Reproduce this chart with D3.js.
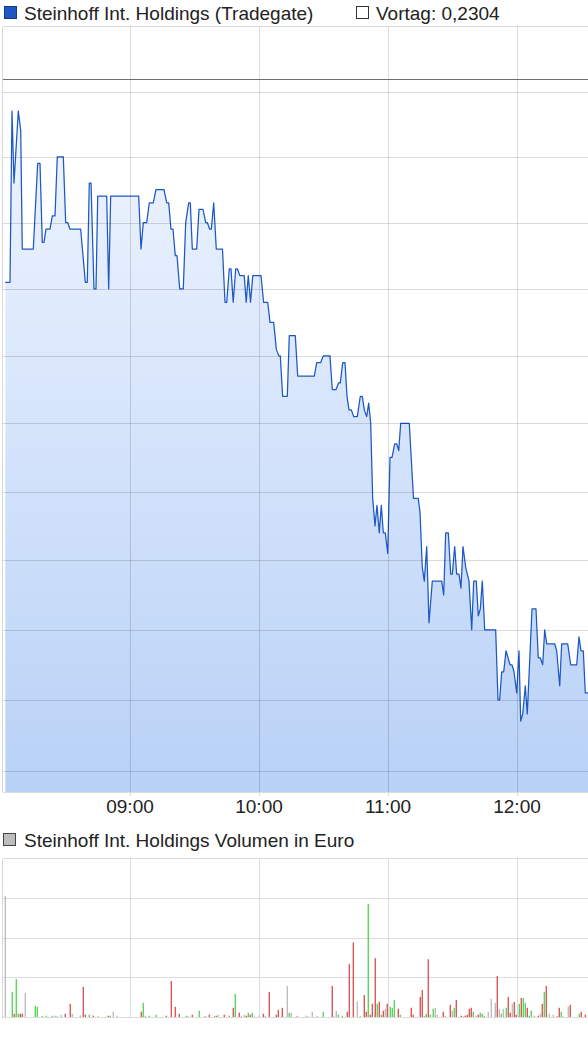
<!DOCTYPE html>
<html><head><meta charset="utf-8">
<script src="https://cdn.jsdelivr.net/npm/d3@7"></script>
<style>
html,body{margin:0;padding:0;background:#fff;}
svg{display:block;font-family:"Liberation Sans",Arial,sans-serif;}
</style></head>
<body>
<svg id="c" width="588" height="1037"></svg>
<script>
// ---------- data ----------
const title = "Steinhoff Int. Holdings (Tradegate)";
const prevLabel = "Vortag: 0,2304";
const prevClose = 0.2304;
const volTitle = "Steinhoff Int. Holdings Volumen in Euro";
const timeTicks = ["09:00","10:00","11:00","12:00"];
const priceTicks = [0.230,0.228,0.226,0.224,0.222,0.220,0.218,0.216,0.214,0.212,0.210];
const volTicks = [4000,8000,12000];

const priceTimes = ["08:02:00","08:04:11","08:05:07","08:06:03","08:08:03","08:09:10","08:09:54","08:15:01","08:17:04","08:18:08",
"08:19:13","08:20:00","08:20:56","08:22:47","08:23:52","08:25:07","08:26:11","08:28:59","08:30:05","08:31:01",
"08:32:05","08:37:04","08:39:13","08:40:08","08:41:04","08:41:52","08:43:15","08:44:11","08:44:59","08:49:10",
"08:50:05","08:51:01","09:04:03","09:05:07","09:06:11","09:07:46","09:08:59","09:10:50","09:12:05","09:15:49",
"09:17:04","09:18:00","09:19:04","09:20:00","09:21:04","09:21:52","09:23:07","09:24:47","09:25:54","09:27:18",
"09:28:03","09:28:59","09:31:01","09:32:05","09:33:57","09:35:13","09:35:57","09:37:04","09:37:49","09:38:56",
"09:40:08","09:43:01","09:44:11","09:44:59","09:46:11","09:46:59","09:48:00","09:49:10","09:50:00","09:51:04",
"09:53:07","09:54:03","09:55:01","09:56:03","09:57:07","10:00:56","10:02:08","10:04:03","10:05:07","10:06:50",
"10:08:03","10:09:10","10:09:54","10:11:01","10:13:10","10:14:05","10:16:53","10:18:00","10:25:43","10:26:50",
"10:28:42","10:29:54","10:33:01","10:34:05","10:35:49","10:37:04","10:37:49","10:38:56","10:40:00","10:40:56",
"10:41:52","10:42:56","10:44:03","10:45:43","10:47:07","10:48:03","10:48:59","10:50:05","10:51:01","10:51:57",
"10:52:53","10:53:57","10:54:53","10:55:57","10:56:53","10:57:49","10:58:45","10:59:52","11:00:56","11:01:52",
"11:03:07","11:04:03","11:04:59","11:05:54","11:09:54","11:11:52","11:14:05","11:14:53","11:15:57","11:16:53",
"11:18:00","11:19:04","11:20:36","11:24:59","11:25:54","11:26:50","11:28:03","11:29:10","11:29:54","11:31:01",
"11:31:57","11:33:01","11:33:57","11:34:53","11:36:08","11:37:40","11:38:56","11:39:52","11:41:04","11:42:00",
"11:42:56","11:43:52","11:44:59","11:50:05","11:51:10","11:51:57","11:52:53","11:53:49","11:54:53","11:56:45",
"11:57:40","11:58:36","11:59:52","12:00:56","12:01:43","12:02:39","12:03:52","12:04:47","12:06:59","12:08:50",
"12:09:54","12:10:50","12:11:57","12:12:53","12:13:49","12:17:32","12:18:28","12:19:52","12:20:47","12:23:35",
"12:24:59","12:27:46","12:28:50","12:29:46","12:30:50","12:31:46","12:35:00"];
const prices = [0.2242,0.2242,0.2294,0.2272,0.2294,0.2288,0.2252,0.2252,0.2278,0.2278,
0.2254,0.2254,0.2258,0.2258,0.2262,0.2262,0.2280,0.2280,0.2260,0.2260,
0.2258,0.2258,0.2242,0.2242,0.2272,0.2272,0.2240,0.2240,0.2268,0.2268,
0.2240,0.2268,0.2268,0.2252,0.2260,0.2260,0.2266,0.2266,0.2270,0.2270,
0.2266,0.2266,0.2258,0.2258,0.2250,0.2250,0.2240,0.2240,0.2260,0.2266,
0.2266,0.2252,0.2252,0.2264,0.2264,0.2260,0.2260,0.2258,0.2258,0.2266,
0.2252,0.2252,0.2236,0.2236,0.2246,0.2246,0.2236,0.2246,0.2246,0.2244,
0.2244,0.2236,0.2244,0.2236,0.2244,0.2244,0.2236,0.2236,0.2230,0.2230,
0.2222,0.2220,0.2220,0.2208,0.2208,0.2226,0.2226,0.2214,0.2214,0.2218,
0.2218,0.2220,0.2220,0.2210,0.2210,0.2212,0.2212,0.2218,0.2218,0.2208,
0.2204,0.2204,0.2202,0.2202,0.2208,0.2208,0.2204,0.2202,0.2206,0.2200,
0.2178,0.2170,0.2176,0.2168,0.2176,0.2168,0.2168,0.2162,0.2190,0.2190,
0.2194,0.2194,0.2192,0.2200,0.2200,0.2178,0.2178,0.2174,0.2158,0.2154,
0.2164,0.2142,0.2154,0.2154,0.2150,0.2168,0.2168,0.2156,0.2156,0.2164,
0.2156,0.2156,0.2152,0.2164,0.2158,0.2154,0.2140,0.2154,0.2154,0.2144,
0.2146,0.2154,0.2140,0.2140,0.2120,0.2120,0.2128,0.2128,0.2134,0.2130,
0.2130,0.2128,0.2122,0.2134,0.2114,0.2116,0.2124,0.2116,0.2146,0.2146,
0.2132,0.2132,0.2130,0.2140,0.2136,0.2136,0.2134,0.2124,0.2136,0.2136,
0.2130,0.2130,0.2138,0.2134,0.2134,0.2122,0.2122];

const volTimes = ["08:02:00","08:05:15","08:06:11","08:07:07","08:08:03","08:08:59","08:09:54","08:11:18","08:15:57","08:16:53",
"08:19:13","08:21:04","08:23:52","08:25:15","08:26:11","08:28:03","08:29:54","08:32:14","08:33:10","08:36:53",
"08:38:17","08:39:13","08:41:04","08:42:56","08:45:15","08:49:54","08:50:50","08:52:14","08:54:05","09:05:15",
"09:06:11","09:07:07","09:08:59","09:12:14","09:16:53","09:19:13","09:21:04","09:22:56","09:26:11","09:27:07",
"09:28:59","09:32:14","09:35:01","09:36:53","09:39:13","09:40:08","09:41:04","09:43:52","09:46:11","09:48:03",
"09:48:59","09:50:50","09:51:46","09:53:10","09:54:05","09:55:01","09:55:57","09:56:53","09:57:49","10:00:08",
"10:02:00","10:02:56","10:04:47","10:08:03","10:08:59","10:10:50","10:13:10","10:14:05","10:15:01","10:17:49",
"10:22:00","10:22:56","10:24:47","10:27:07","10:29:54","10:34:05","10:35:01","10:35:57","10:36:53","10:38:45",
"10:41:04","10:42:00","10:43:52","10:45:43","10:47:07","10:48:59","10:49:54","10:50:50","10:51:46","10:52:42",
"10:54:05","10:55:01","10:55:57","10:56:53","10:57:49","10:58:45","10:59:40","11:01:04","11:02:00","11:02:56",
"11:04:47","11:05:43","11:10:50","11:11:46","11:15:01","11:15:57","11:16:53","11:17:49","11:18:45","11:19:40",
"11:21:04","11:22:00","11:22:56","11:25:43","11:26:39","11:28:59","11:29:54","11:30:50","11:31:46","11:34:05",
"11:35:01","11:35:57","11:36:53","11:37:49","11:38:45","11:39:40","11:41:04","11:42:00","11:42:56","11:43:52",
"11:44:47","11:46:39","11:48:03","11:49:54","11:50:50","11:51:46","11:52:42","11:53:38","11:55:01","11:55:57",
"11:56:53","11:57:49","11:58:45","11:59:40","12:01:04","12:02:00","12:02:56","12:03:52","12:04:47","12:05:43",
"12:06:39","12:08:03","12:09:54","12:10:50","12:11:46","12:12:42","12:13:38","12:15:01","12:16:53","12:18:45",
"12:19:40","12:20:36","12:21:32","12:23:52","12:24:47","12:28:59","12:29:54","12:31:46"];
const volValues = [12230,2530,330,3830,330,330,330,2430,1130,1030,
70,130,130,130,70,230,330,1330,330,130,
3030,230,230,130,70,130,130,530,130,530,
1430,130,130,230,130,3630,1030,330,130,70,
230,630,70,230,70,130,230,230,130,930,
2330,430,130,230,130,430,230,430,70,130,
330,130,2530,230,730,930,3130,430,430,70,
130,70,530,70,530,3130,70,630,230,130,
530,5330,7530,1530,70,2230,530,11430,230,1330,
5930,1330,1530,230,630,830,1330,1030,930,1730,
830,230,930,230,2030,2730,70,330,5830,230,
830,930,230,530,70,1230,630,930,1730,130,
70,130,230,830,930,530,130,230,430,330,
70,530,1830,1430,4130,830,330,830,930,2030,
430,1330,1530,230,1330,1930,1930,1430,930,130,
630,130,130,330,1330,2530,3130,330,230,70,
930,530,70,1030,1230,330,530,230];
// u = up (green), d = down (red), n = unchanged (grey)
const volDir = ["n","u","d","u","u","d","d","n","u","u",
"d","u","u","n","u","n","d","d","n","n",
"d","d","u","d","u","d","u","n","n","d",
"u","n","u","u","d","d","d","d","u","u",
"d","u","d","d","u","d","n","d","u","d",
"u","d","n","n","d","u","d","u","n","n",
"d","n","d","d","d","d","n","u","n","d",
"n","n","n","u","u","d","n","n","u","u",
"d","d","d","n","u","d","d","u","d","d",
"d","u","d","u","d","n","d","u","u","u",
"d","u","d","d","d","d","d","u","d","u",
"u","n","n","d","u","d","n","u","d","d",
"n","d","d","d","d","u","n","d","u","u",
"d","n","n","n","d","n","u","n","u","d",
"d","n","d","d","u","d","u","u","d","u",
"u","n","d","n","d","u","d","n","n","d",
"d","u","n","n","d","u","d","d"];

// ---------- drawing ----------
const W = 588;
const parseT = d3.timeParse("%Y-%m-%d %H:%M:%S");
const pt = s => parseT("2018-01-02 " + (s.length === 5 ? s + ":00" : s));

const x = d3.scaleTime().domain([pt("08:00"), pt("13:00")]).range([1, 646]);
const yP = d3.scaleLog().domain([0.2094, 0.232]).range([792, 27]);
const yV = d3.scaleLinear().domain([0, 16000]).range([1017, 858.5]);

const svg = d3.select("#c");
const defs = svg.append("defs");
const grad = defs.append("linearGradient").attr("id","ag")
  .attr("gradientUnits","userSpaceOnUse").attr("x1",0).attr("x2",0).attr("y1",27).attr("y2",792);
grad.append("stop").attr("offset","0").attr("stop-color","#f6f9ff");
grad.append("stop").attr("offset","1").attr("stop-color","#b8d1f7");
defs.append("clipPath").attr("id","cp").append("rect").attr("x",3).attr("y",27).attr("width",W-3).attr("height",765);

const crisp = v => Math.round(v) + 0.5;

// legend top
svg.append("rect").attr("x",4.5).attr("y",6.5).attr("width",12).attr("height",12)
  .attr("fill","#1f56c2").attr("stroke","#123a85");
svg.append("text").attr("x",24).attr("y",19.5).attr("font-size",19).attr("fill","#222").text(title);
svg.append("rect").attr("x",356.5).attr("y",6.5).attr("width",12).attr("height",12)
  .attr("fill","#fff").attr("stroke","#333");
svg.append("text").attr("x",376).attr("y",19.5).attr("font-size",19).attr("fill","#222").text(prevLabel);

// price area + line
const data = priceTimes.map((t,i) => ({t: pt(t), v: prices[i]}));
const gP = svg.append("g").attr("clip-path","url(#cp)");
gP.append("path").datum(data)
  .attr("d", d3.area().x(d => x(d.t)).y0(792).y1(d => yP(d.v)))
  .attr("fill","url(#ag)");

// grid price
const gridP = svg.append("g").attr("shape-rendering","crispEdges");
gridP.selectAll("line.h").data(priceTicks).join("line")
  .attr("x1",3).attr("x2",W).attr("y1",d => crisp(yP(d))).attr("y2",d => crisp(yP(d)))
  .attr("stroke","#000").attr("stroke-opacity",0.14);
gridP.selectAll("line.v").data(timeTicks).join("line")
  .attr("x1",d => crisp(x(pt(d)))).attr("x2",d => crisp(x(pt(d))))
  .attr("y1",27).attr("y2",796)
  .attr("stroke","#000").attr("stroke-opacity",0.14);
// frame
gridP.append("line").attr("x1",2.5).attr("x2",W).attr("y1",26.5).attr("y2",26.5).attr("stroke","#d8d8d8");
gridP.append("line").attr("x1",2.5).attr("x2",2.5).attr("y1",26.5).attr("y2",792).attr("stroke","#d8d8d8");
gridP.append("line").attr("x1",2.5).attr("x2",W).attr("y1",792.5).attr("y2",792.5).attr("stroke","#dcdcdc");
// previous close
gridP.append("line").attr("x1",3).attr("x2",W).attr("y1",crisp(yP(prevClose))).attr("y2",crisp(yP(prevClose)))
  .attr("stroke","#6e6e6e");

gP.append("path").datum(data)
  .attr("d", d3.line().x(d => x(d.t)).y(d => yP(d.v)))
  .attr("fill","none").attr("stroke","#1d58c4").attr("stroke-width",1.25).attr("stroke-linejoin","round");

// time labels
svg.append("g").selectAll("text").data(timeTicks).join("text")
  .attr("x",d => x(pt(d))).attr("y",813).attr("text-anchor","middle")
  .attr("font-size",19).attr("fill","#222").text(d => d);

// volume legend
svg.append("rect").attr("x",3.5).attr("y",833.5).attr("width",12).attr("height",12)
  .attr("fill","#bdbdbd").attr("stroke","#444");
svg.append("text").attr("x",24).attr("y",847).attr("font-size",19).attr("fill","#222").text(volTitle);

// volume grid
const gridV = svg.append("g").attr("shape-rendering","crispEdges");
gridV.selectAll("line.h").data(volTicks).join("line")
  .attr("x1",3).attr("x2",W).attr("y1",d => crisp(yV(d))).attr("y2",d => crisp(yV(d)))
  .attr("stroke","#dcdcdc");
gridV.selectAll("line.v").data(timeTicks).join("line")
  .attr("x1",d => crisp(x(pt(d)))).attr("x2",d => crisp(x(pt(d))))
  .attr("y1",858).attr("y2",1017).attr("stroke","#dcdcdc");
gridV.append("line").attr("x1",2.5).attr("x2",W).attr("y1",858.5).attr("y2",858.5).attr("stroke","#d8d8d8");
gridV.append("line").attr("x1",2.5).attr("x2",2.5).attr("y1",858.5).attr("y2",1018).attr("stroke","#d8d8d8");
gridV.append("line").attr("x1",2.5).attr("x2",W).attr("y1",1017.5).attr("y2",1017.5).attr("stroke","#dcdcdc");

// volume bars
const col = {u:"#5ed45e", d:"#d95858", n:"#bdbdbd"};
const vdata = volTimes.map((t,i) => ({t: pt(t), v: volValues[i], c: volDir[i]}));
svg.append("g").selectAll("rect").data(vdata).join("rect")
  .attr("x", d => x(d.t) - 0.7).attr("width", 1.4)
  .attr("y", d => yV(d.v)).attr("height", d => yV(0) - yV(d.v))
  .attr("fill", d => col[d.c]);
</script>
</body></html>
